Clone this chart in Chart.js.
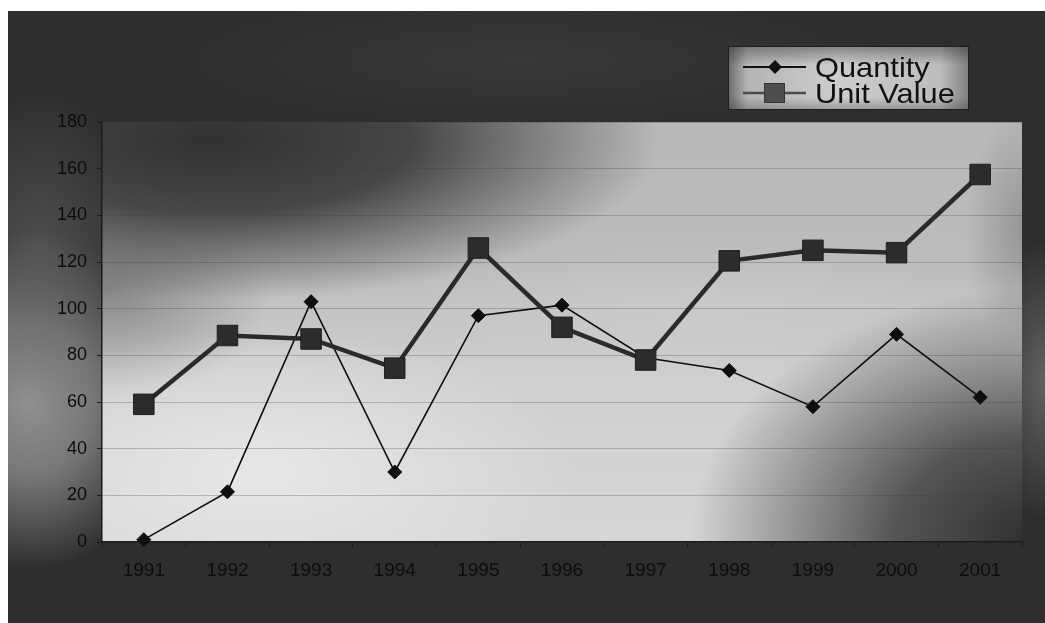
<!DOCTYPE html>
<html>
<head>
<meta charset="utf-8">
<script src="https://cdn.jsdelivr.net/npm/chart.js@4.4.1/dist/chart.umd.min.js"></script>
<style>
  html, body { margin: 0; padding: 0; background: #ffffff; }
  #wrap { position: absolute; left: 0; top: 0; width: 1045px; height: 623px; }
</style>
</head>
<body>
<div id="wrap"><canvas id="c" width="1045" height="623"></canvas></div>
<script>
// Yearly series
const years = ['1991', '1992', '1993', '1994', '1995', '1996', '1997', '1998', '1999', '2000', '2001'];
const quantity = [1, 21.5, 103, 30, 97, 101.5, 79, 73.5, 58, 89, 62];
const unitValue = [59, 88.5, 87, 74.5, 126, 92, 78, 120.5, 125, 124, 157.5];
const yTicks = [0, 20, 40, 60, 80, 100, 120, 140, 160, 180];

const FONT = "'Liberation Sans', Arial, sans-serif";

// soft elliptical shading blob
function blob(ctx, cx, cy, rx, ry, rgb, stops) {
  ctx.save();
  ctx.translate(cx, cy);
  ctx.scale(rx, ry);
  const g = ctx.createRadialGradient(0, 0, 0, 0, 0, 1);
  stops.forEach(([p, a]) => g.addColorStop(p, 'rgba(' + rgb + ',' + a + ')'));
  ctx.fillStyle = g;
  ctx.beginPath();
  ctx.arc(0, 0, 1, 0, Math.PI * 2);
  ctx.fill();
  ctx.restore();
}

const backdrop = {
  id: 'backdrop',
  beforeDraw(chart) {
    const ctx = chart.ctx;
    const a = chart.chartArea;
    const W = chart.width, H = chart.height;
    ctx.save();
    // outer frame
    ctx.beginPath();
    ctx.rect(8, 11, W - 8, H - 11);
    ctx.clip();
    ctx.fillStyle = '#2e2e30';
    ctx.fillRect(0, 0, W, H);
    blob(ctx, 30, 400, 140, 170, '150,150,150', [[0, 0.95], [0.45, 0.7], [1, 0]]);
    blob(ctx, 40, 250, 110, 160, '100,100,100', [[0, 0.6], [1, 0]]);
    blob(ctx, 1045, 380, 60, 140, '120,120,120', [[0, 0.7], [1, 0]]);
    blob(ctx, 520, 60, 360, 70, '70,70,70', [[0, 0.4], [1, 0]]);
    ctx.restore();

    // plot area shading
    ctx.save();
    ctx.beginPath();
    ctx.rect(a.left, a.top, a.right - a.left, a.bottom - a.top);
    ctx.clip();
    const base = ctx.createLinearGradient(0, a.top, 0, a.bottom);
    base.addColorStop(0, '#b8b8b8');
    base.addColorStop(0.35, '#bcbcbc');
    base.addColorStop(0.6, '#cfcfcf');
    base.addColorStop(1, '#d6d6d6');
    ctx.fillStyle = base;
    ctx.fillRect(a.left, a.top, a.right - a.left, a.bottom - a.top);
    blob(ctx, 210, 140, 450, 160, '45,45,47', [[0, 0.97], [0.45, 0.82], [1, 0]]);
    blob(ctx, 110, 290, 160, 110, '80,80,82', [[0, 0.5], [1, 0]]);
    blob(ctx, 1030, 540, 340, 250, '42,42,44', [[0, 0.97], [0.4, 0.75], [1, 0]]);
    blob(ctx, 260, 470, 320, 140, '245,245,245', [[0, 0.6], [1, 0]]);
    blob(ctx, 700, 300, 300, 60, '215,215,215', [[0, 0.35], [1, 0]]);
    blob(ctx, 1025, 230, 60, 120, '110,110,110', [[0, 0.5], [1, 0]]);
    ctx.restore();
  }
};

const legendBox = {
  id: 'legendBox',
  afterDraw(chart) {
    const ctx = chart.ctx;
    const x0 = 728, y0 = 46, x1 = 969, y1 = 110;
    ctx.save();
    const g = ctx.createLinearGradient(x0, 0, x1, 0);
    g.addColorStop(0, '#6a6a6a');
    g.addColorStop(0.08, '#b4b4b4');
    g.addColorStop(0.45, '#cdcdcd');
    g.addColorStop(0.88, '#bdbdbd');
    g.addColorStop(1, '#7e7e7e');
    ctx.fillStyle = g;
    ctx.fillRect(x0, y0, x1 - x0, y1 - y0);
    const gv = ctx.createLinearGradient(0, y0, 0, y1);
    gv.addColorStop(0, 'rgba(40,40,40,0.45)');
    gv.addColorStop(0.3, 'rgba(40,40,40,0)');
    gv.addColorStop(0.8, 'rgba(40,40,40,0)');
    gv.addColorStop(1, 'rgba(40,40,40,0.3)');
    ctx.fillStyle = gv;
    ctx.fillRect(x0, y0, x1 - x0, y1 - y0);
    ctx.strokeStyle = '#1e1e1e';
    ctx.lineWidth = 1;
    ctx.strokeRect(x0 + 0.5, y0 + 0.5, x1 - x0 - 1, y1 - y0 - 1);

    const rows = [67, 93];
    const base = [77, 103];
    chart.data.datasets.forEach((ds, i) => {
      const y = rows[i];
      ctx.strokeStyle = i === 0 ? '#111' : '#4a4a4a';
      ctx.lineWidth = i === 0 ? 1.8 : 2.5;
      ctx.beginPath();
      ctx.moveTo(743, y);
      ctx.lineTo(806, y);
      ctx.stroke();
      if (i === 0) {
        ctx.fillStyle = '#111';
        ctx.beginPath();
        ctx.moveTo(775, y - 7);
        ctx.lineTo(782, y);
        ctx.lineTo(775, y + 7);
        ctx.lineTo(768, y);
        ctx.closePath();
        ctx.fill();
      } else {
        ctx.fillStyle = '#4e4e4e';
        ctx.fillRect(764, y - 10, 21, 20);
        ctx.strokeStyle = '#333';
        ctx.lineWidth = 1;
        ctx.strokeRect(764.5, y - 9.5, 20, 19);
      }
      ctx.save();
      ctx.translate(815, base[i]);
      ctx.scale(1.1, 1);
      ctx.fillStyle = '#111';
      ctx.font = '28px ' + FONT;
      ctx.textBaseline = 'alphabetic';
      ctx.textAlign = 'left';
      ctx.fillText(ds.label, 0, 0);
      ctx.restore();
    });
    ctx.restore();
  }
};

new Chart(document.getElementById('c'), {
  type: 'line',
  data: {
    labels: years,
    datasets: [
      {
        label: 'Quantity',
        data: quantity,
        borderColor: '#0e0e0e',
        borderWidth: 1.6,
        pointStyle: 'rectRot',
        pointRadius: 7,
        pointBackgroundColor: '#0e0e0e',
        pointBorderColor: '#0e0e0e',
        pointBorderWidth: 1,
        tension: 0,
        clip: false,
        order: 1
      },
      {
        label: 'Unit Value',
        data: unitValue,
        borderColor: '#2a2a2a',
        borderWidth: 4.5,
        pointStyle: 'rect',
        pointRadius: 14.5,
        pointBackgroundColor: '#2c2c2c',
        pointBorderColor: '#1f1f1f',
        pointBorderWidth: 1,
        tension: 0,
        clip: false,
        order: 0
      }
    ]
  },
  options: {
    responsive: false,
    animation: false,
    devicePixelRatio: 1,
    layout: { padding: { left: 8, top: 122, right: 23, bottom: 0 } },
    plugins: {
      legend: { display: false },
      tooltip: { enabled: false }
    },
    scales: {
      x: {
        type: 'category',
        offset: true,
        grid: {
          offset: true,
          drawOnChartArea: false,
          drawTicks: true,
          tickLength: 5,
          tickColor: '#1a1a1a',
          lineWidth: 1
        },
        border: { color: '#1a1a1a', width: 1.5 },
        ticks: {
          color: '#0c0c0c',
          font: { family: FONT, size: 19 },
          padding: 12,
          maxRotation: 0,
          autoSkip: false
        },
        afterFit(s) { s.height = 81; }
      },
      y: {
        min: 0,
        max: 180,
        afterBuildTicks(s) { s.ticks = yTicks.map(v => ({ value: v })); },
        grid: {
          color: 'rgba(60,60,60,0.28)',
          lineWidth: 1,
          drawTicks: true,
          tickLength: 5,
          tickColor: '#1a1a1a'
        },
        border: { color: '#1a1a1a', width: 1.5 },
        ticks: {
          color: '#0c0c0c',
          font: { family: FONT, size: 18 },
          padding: 10
        },
        afterFit(s) { s.width = 94; }
      }
    }
  },
  plugins: [backdrop, legendBox]
});
</script>
</body>
</html>
